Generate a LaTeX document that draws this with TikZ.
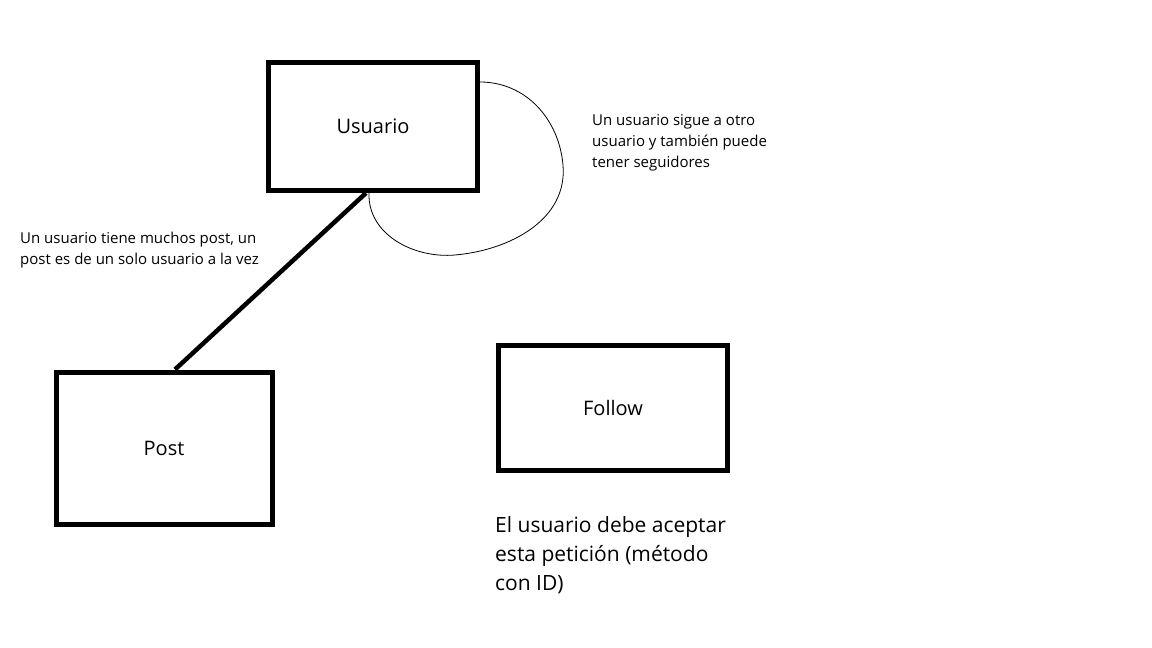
\documentclass[tikz,border=0pt]{standalone}
\usepackage{fontspec}
\setmainfont{Open Sans}
\usetikzlibrary{positioning}

\begin{document}
\begin{tikzpicture}[x=1pt,y=-1pt,
        % every box gets a thick black frame
        entity/.style={draw=black,line width=5pt,inner sep=0pt,font=\fontsize{20}{24}\selectfont},
        note/.style={align=left,anchor=north west,inner sep=0pt,font=\fontsize{15}{21}\selectfont},
        bignote/.style={align=left,anchor=north west,inner sep=0pt,font=\fontsize{21}{29}\selectfont},
        relation/.style={draw=black,line width=4.5pt},
        selfloop/.style={draw=black,line width=0.8pt},]

        \useasboundingbox (0,0) rectangle (1152,648);

        \node[entity, minimum width=209pt, minimum height=128pt] (usuario) at (373,126.5) {Usuario};
        \node[entity, minimum width=216pt, minimum height=152pt] (post) at (164,448) {Post};
        \node[entity, minimum width=229pt, minimum height=124.5pt] (follow) at (613,408) {Follow};

        \coordinate (loop_start) at ([yshift=-22pt]usuario.north east);
        \coordinate (loop_right) at (563,165);
        \coordinate (loop_bottom) at (455,255);
        \coordinate (loop_end) at ([xshift=-4pt]usuario.south);

        % Usuario -- Post
        \path[relation] ([xshift=-7pt]usuario.south) edge ([xshift=11pt]post.north);

        % self relation of Usuario
        \draw[selfloop] (loop_start) to[out=0, in=95] (loop_right)
                to[out=-85, in=5] (loop_bottom)
                to[out=185, in=-92] (loop_end);

        \node[note] (n_posts) at (20,232) {Un usuario tiene muchos post, un\\post es de un solo usuario a la vez};
        \node[note] (n_follow) at (592,114) {Un usuario sigue a otro\\usuario y también puede\\tener seguidores};
        \node[bignote] (n_request) at (495,516) {El usuario debe aceptar\\esta petición (método\\con ID)};

    \end{tikzpicture}
\end{document}
